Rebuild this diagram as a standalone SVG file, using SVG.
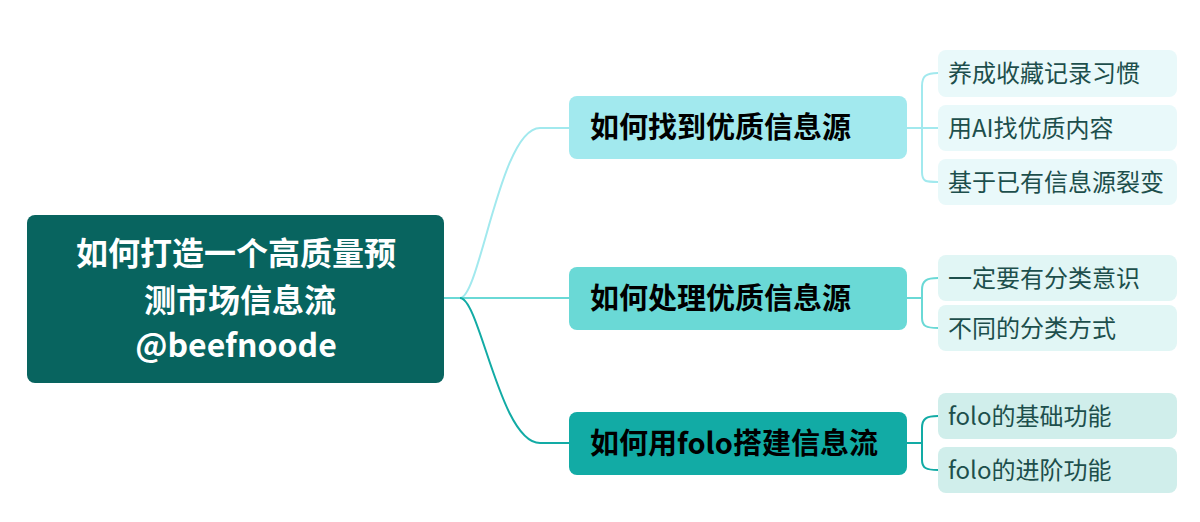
<svg xmlns="http://www.w3.org/2000/svg" width="1200" height="522" viewBox="0 0 1200 522">
<style>
.t{font-family:"Noto Sans CJK SC","Noto Sans",sans-serif}
.b{font-weight:bold;font-size:29px;fill:#000}
.l{font-size:24px;fill:#1d4f4c}
.r{font-size:32px;font-weight:bold;fill:#fff}
.c{fill:none;stroke-width:2}
</style>
<rect width="1200" height="522" fill="#fff"/>
<g id="connectors">
<path class="c" stroke="#a2e9ee" d="M460,298 C480,298 500,128 540,128 L569,128"/>
<path class="c" stroke="#6ad9d6" d="M444,298 L569,298"/>
<path class="c" stroke="#12aba5" d="M460,298 C480,298 500,443 540,443 L569,443"/>
<path class="c" stroke="#a2e9ee" d="M907,128 L922,128 M938,73 C926,73 922,76 922,86 L922,172 C922,182 926,182 938,182 M922,128 L938,128"/>
<path class="c" stroke="#6ad9d6" d="M907,298 L922,298 M938,278 C926,278 922,281 922,290 L922,318 C922,326 926,328 938,328"/>
<path class="c" stroke="#12aba5" d="M907,443 L922,443 M938,416 C926,416 922,419 922,428 L922,460 C922,468 926,470 938,470"/>
</g>
<g id="root"><rect x="27" y="215" width="417" height="168" rx="8" fill="#08645f"/>
<text class="t r" x="236" y="265" text-anchor="middle">如何打造一个高质量预</text>
<text class="t r" x="240" y="312" text-anchor="middle">测市场信息流</text>
<text class="t r" x="236" y="357" text-anchor="middle">@beefnoode</text></g>
<g id="b1"><rect x="569" y="96" width="338" height="63" rx="8" fill="#a2e9ee"/><text class="t b" x="590" y="138">如何找到优质信息源</text></g>
<g id="b2"><rect x="569" y="267" width="338" height="63" rx="8" fill="#6ad9d6"/><text class="t b" x="590" y="309">如何处理优质信息源</text></g>
<g id="b3"><rect x="569" y="412" width="338" height="63" rx="8" fill="#12aba5"/><text class="t b" x="590" y="454">如何用folo搭建信息流</text></g>
<g id="l1"><rect x="938" y="50" width="239" height="47" rx="8" fill="#e9f9fa"/><text class="t l" x="948" y="82">养成收藏记录习惯</text></g>
<g id="l2"><rect x="938" y="105" width="239" height="46" rx="8" fill="#e9f9fa"/><text class="t l" x="948" y="137">用AI找优质内容</text></g>
<g id="l3"><rect x="938" y="159" width="239" height="46" rx="8" fill="#e9f9fa"/><text class="t l" x="948" y="191">基于已有信息源裂变</text></g>
<g id="l4"><rect x="938" y="255" width="239" height="46" rx="8" fill="#e1f6f5"/><text class="t l" x="948" y="287">一定要有分类意识</text></g>
<g id="l5"><rect x="938" y="305" width="239" height="46" rx="8" fill="#e1f6f5"/><text class="t l" x="948" y="337">不同的分类方式</text></g>
<g id="l6"><rect x="938" y="393" width="239" height="46" rx="8" fill="#d0eeeb"/><text class="t l" x="948" y="425">folo的基础功能</text></g>
<g id="l7"><rect x="938" y="447" width="239" height="46" rx="8" fill="#d0eeeb"/><text class="t l" x="948" y="479">folo的进阶功能</text></g>
</svg>
